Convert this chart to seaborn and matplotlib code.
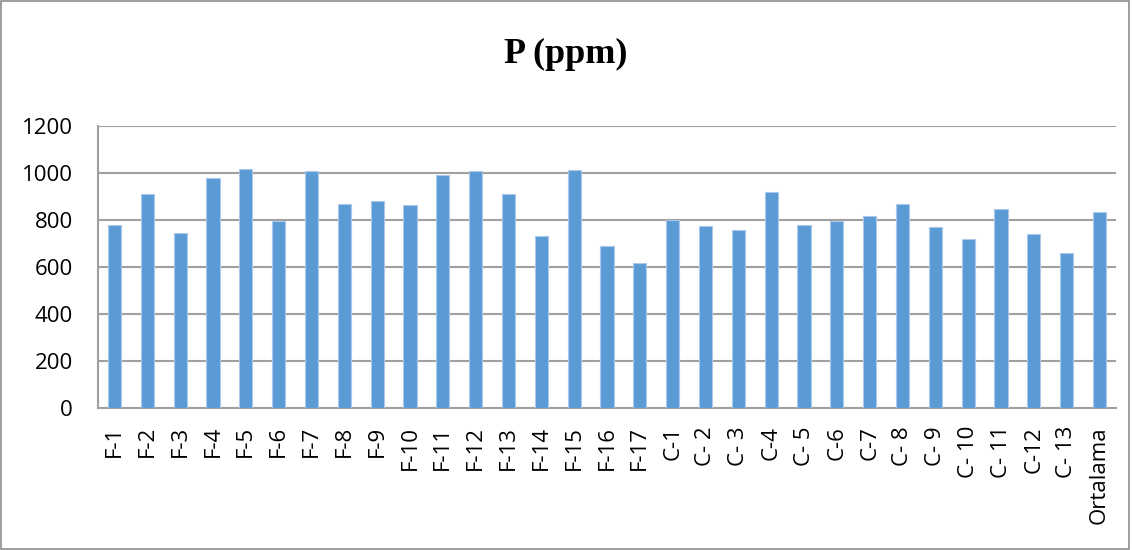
import matplotlib
matplotlib.use("Agg")
import matplotlib.pyplot as plt
import seaborn as sns
import pandas as pd
import numpy as np
from matplotlib.patches import Rectangle

# Sample labels and phosphorus values (ppm)
categories = ["F-1", "F-2", "F-3", "F-4", "F-5", "F-6", "F-7", "F-8", "F-9", "F-10",
              "F-11", "F-12", "F-13", "F-14", "F-15", "F-16", "F-17",
              "C-1", "C- 2", "C- 3", "C-4", "C- 5", "C-6", "C-7", "C- 8", "C- 9",
              "C- 10", "C- 11", "C-12", "C- 13", "Ortalama"]
values = [780, 911, 743, 977, 1019, 794, 1008, 869, 880, 863,
          990, 1010, 911, 733, 1011, 688, 615,
          799, 773, 758, 920, 779, 797, 815, 870, 770,
          720, 848, 742, 661, 834]
y_ticks = [0, 200, 400, 600, 800, 1000, 1200]

df = pd.DataFrame({"sample": categories, "P": values})

sns.set_theme(style="white")
plt.rcParams["font.family"] = ["Open Sans", "DejaVu Sans"]

fig = plt.figure(figsize=(11.32, 5.50), dpi=100)
ax = fig.add_axes([98 / 1132, 1 - 408 / 550, (1116 - 98) / 1132, (408 - 126) / 550])

sns.barplot(data=df, x="sample", y="P", color="#5b9bd5", width=0.4,
            edgecolor="#a9c8ea", linewidth=0.8, saturation=1, ax=ax, zorder=3)

ax.set_ylim(0, 1200)
ax.set_xlim(-0.5, len(categories) - 0.5)
ax.set_yticks(y_ticks)
ax.set_yticklabels([str(t) for t in y_ticks], fontsize=16, color="#000000")
ax.set_xticks(range(len(categories)))
ax.set_xticklabels(categories, rotation=90, fontsize=16, color="#000000")
ax.set_xticks(np.arange(-0.5, len(categories), 1.0), minor=True)
ax.tick_params(axis="x", which="major", length=0, pad=13)
ax.tick_params(axis="x", which="minor", length=6, width=1.2, color="#a0a0a0", direction="out")
ax.tick_params(axis="y", which="major", length=6, width=1.2, color="#a0a0a0", direction="out", pad=12)

ax.yaxis.grid(True, color="#a0a0a0", linewidth=1.5, zorder=0)
ax.xaxis.grid(False)
ax.set_axisbelow(True)
for side in ["top", "right"]:
    ax.spines[side].set_visible(False)
for side in ["left", "bottom"]:
    ax.spines[side].set_color("#a0a0a0")
    ax.spines[side].set_linewidth(1.5)
ax.set_xlabel("")
ax.set_ylabel("")

fig.text(0.5, 1 - 54 / 550, "P (ppm)", ha="center", va="center", color="#000000",
         fontsize=26, fontweight="bold", family="Liberation Serif")

fig.patches.append(Rectangle((0.001, 0.002), 0.996, 0.996, transform=fig.transFigure,
                             fill=False, edgecolor="#8c8c8c", linewidth=1.2))

fig.savefig("out.png", dpi=100)
